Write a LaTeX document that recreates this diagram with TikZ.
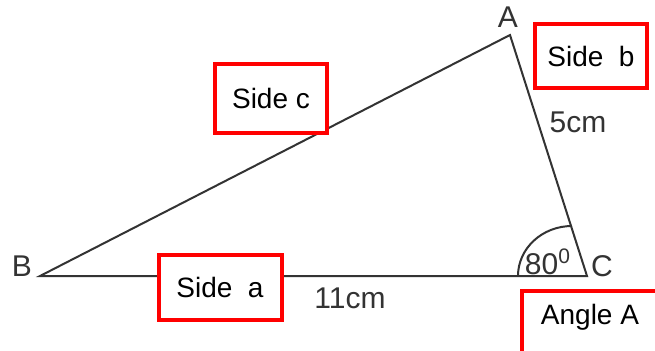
\documentclass[tikz,border=0pt]{standalone}
\usepackage{fontspec}
\setmainfont{Liberation Sans}
\usepackage{xcolor}
\usetikzlibrary{calc}
\definecolor{lineGray}{HTML}{333333}
\definecolor{boxRed}{HTML}{FF0000}
\tikzset{
  triside/.style={draw=lineGray, line width=1pt},
  vlabel/.style={text=lineGray, font=\fontsize{15}{17}\selectfont, inner sep=0pt},
  sidebox/.style={draw=boxRed, fill=white, line width=2pt, align=center, inner sep=0pt, font=\fontsize{14}{16}\selectfont}
}

\begin{document}
\begin{tikzpicture}[x=0.5pt, y=-0.5pt]
\clip (0,0) rectangle (655,350);
\fill[white] (0,0) rectangle (655,350);
% triangle corners
\coordinate (vertA) at (510,35);
\coordinate (vertB) at (40,276);
\coordinate (vertC) at (587,276);
\draw[triside] (vertB) -- (vertA) -- (vertC) -- cycle;
% angle mark at C
\draw[triside] (518,276) arc[start angle=180, end angle=90, x radius=27pt, y radius=25pt];
% corner and length labels
\node[vlabel] (labA) at (508,17) {A};
\node[vlabel] (labB) at (22,266) {B};
\node[vlabel] (labC) at (602,266) {C};
\node[vlabel] (lenB) at (578,122) {5cm};
\node[vlabel] (lenA) at (350,298) {11cm};
\node[vlabel] (angC) at (548,262) {80\textsuperscript{0}};
% red boxes
\node[sidebox, minimum width=56pt, minimum height=34.5pt] (boxC) at (271,98.5) {Side c};
\node[sidebox, minimum width=56pt, minimum height=32pt] (boxB) at (591,56) {Side\ \ b};
\node[sidebox, minimum width=61.5pt, minimum height=32.5pt] (boxA) at (220,287) {Side\ \ a};
\node[sidebox, minimum width=75pt, minimum height=34pt, anchor=north west] (boxAng) at (520,289) {};
\node[sidebox, draw=none, fill=none] (angText) at (590,317) {Angle A};
\end{tikzpicture}
\end{document}
